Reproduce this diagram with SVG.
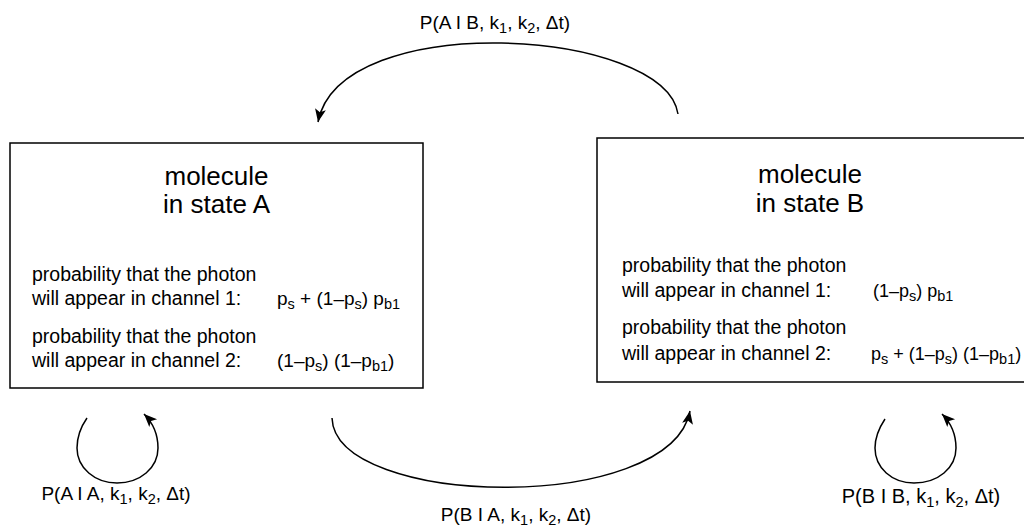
<svg xmlns="http://www.w3.org/2000/svg" width="1024" height="527" viewBox="0 0 1024 527">
<style>
text{font-family:"Liberation Sans",Arial,Helvetica,sans-serif;fill:#000}
.h{font-size:26px;text-anchor:middle}
.b{font-size:19.5px}
.f{font-size:19px}
.fb{font-size:18px}
.l{font-size:19px;text-anchor:middle}
.s{font-size:14.5px}
.box{fill:#fff;stroke:#000;stroke-width:1.5}
.c{fill:none;stroke:#000;stroke-width:1.5;marker-end:url(#ah)}
</style>
<defs>
<marker id="ah" viewBox="-14 -7 15 14" refX="0" refY="0" markerWidth="15" markerHeight="14" markerUnits="userSpaceOnUse" orient="auto">
<path d="M0,0 L-13,-5.5 L-10,0 L-13,5.5 Z" fill="#000"/>
</marker>
</defs>
<rect width="1024" height="527" fill="#fff"/>
<g id="stateA">
<rect class="box" x="10" y="143" width="413" height="245"/>
<text class="h" x="216.5" y="185">molecule</text>
<text class="h" x="216.5" y="213">in state A</text>
<text class="b" x="32" y="281">probability that the photon</text>
<text class="b" x="32" y="305">will appear in channel 1:</text>
<text class="f" x="277" y="305">p<tspan class="s" dy="4">s</tspan><tspan dy="-4"> + (1–p</tspan><tspan class="s" dy="4">s</tspan><tspan dy="-4">) p</tspan><tspan class="s" dy="4">b1</tspan></text>
<text class="b" x="32" y="343">probability that the photon</text>
<text class="b" x="32" y="367">will appear in channel 2:</text>
<text class="f" x="277" y="367">(1–p<tspan class="s" dy="4">s</tspan><tspan dy="-4">) (1–p</tspan><tspan class="s" dy="4">b1</tspan><tspan dy="-4">)</tspan></text>
</g>
<g id="stateB">
<rect class="box" x="597" y="138" width="430" height="244"/>
<text class="h" x="810" y="183">molecule</text>
<text class="h" x="810" y="212">in state B</text>
<text class="b" x="622" y="272">probability that the photon</text>
<text class="b" x="622" y="297">will appear in channel 1:</text>
<text class="fb" x="873" y="297">(1–p<tspan class="s" dy="4">s</tspan><tspan dy="-4">) p</tspan><tspan class="s" dy="4">b1</tspan></text>
<text class="b" x="622" y="334">probability that the photon</text>
<text class="b" x="622" y="360">will appear in channel 2:</text>
<text class="fb" x="871" y="360">p<tspan class="s" dy="4">s</tspan><tspan dy="-4"> + (1–p</tspan><tspan class="s" dy="4">s</tspan><tspan dy="-4">) (1–p</tspan><tspan class="s" dy="4">b1</tspan><tspan dy="-4">)</tspan></text>
</g>
<g id="connectors">
<path id="BtoA" class="c" d="M678,114 C665,28 340,8 318,122"/>
<path id="AtoB" class="c" d="M332,418 C335,508 670,515 690,411"/>
<path id="AtoA" class="c" d="M87,418 C80,428 77,438 77,448 C77,468 95,483 117,483 C140,483 158,468 158,448 C158,434 153,423 144,414"/>
<path id="BtoB" class="c" d="M885,419 C879,428 875,438 875,448 C875,468 892,483 914,483 C938,483 956,468 956,448 C956,434 951,423 942,414"/>
</g>
<g id="labels">
<text class="l" x="495" y="29">P(A I B, k<tspan class="s" dy="4">1</tspan><tspan dy="-4">, k</tspan><tspan class="s" dy="4">2</tspan><tspan dy="-4">, Δt)</tspan></text>
<text class="l" x="116" y="500">P(A I A, k<tspan class="s" dy="4">1</tspan><tspan dy="-4">, k</tspan><tspan class="s" dy="4">2</tspan><tspan dy="-4">, Δt)</tspan></text>
<text class="l" x="516" y="521">P(B I A, k<tspan class="s" dy="4">1</tspan><tspan dy="-4">, k</tspan><tspan class="s" dy="4">2</tspan><tspan dy="-4">, Δt)</tspan></text>
<text class="l" x="921" y="503" style="font-size:20px">P(B I B, k<tspan class="s" dy="4">1</tspan><tspan dy="-4">, k</tspan><tspan class="s" dy="4">2</tspan><tspan dy="-4">, Δt)</tspan></text>
</g>
</svg>
